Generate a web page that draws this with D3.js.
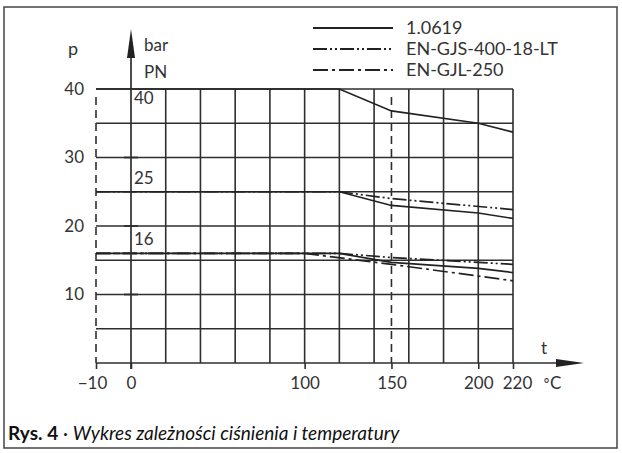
<!DOCTYPE html>
<html>
<head>
<meta charset="utf-8">
<script src="https://cdn.jsdelivr.net/npm/d3@7"></script>
<style>
  body { margin: 0; background: #fff; }
  svg { display: block; }
  text { font-family: Lato, "DejaVu Sans", sans-serif; fill: #333; }
</style>
</head>
<body>
<div id="chart"></div>
<script>
// Temperature / pressure ticks
const tempTicks = [-10, 0, 100, 150, 200, 220];
const pressureTicks = [10, 20, 30, 40];
const gridTemps = [20, 40, 60, 80, 100, 120, 140, 160, 180, 200, 220];
const gridPressures = [5, 10, 15, 20, 25, 30, 35, 40];
const pnLabels = [40, 25, 16];

// 1.0619 (solid)
const temps_1_0619 = [-10, 120, 150, 200, 220];
const pn40_1_0619 = [40, 40, 36.8, 35.0, 33.7];
const pn25_1_0619 = [25, 25, 23.0, 21.9, 21.1];
const pn16_1_0619 = [16, 16, 14.7, 13.8, 13.2];

// EN-GJS-400-18-LT (dash dot dot)
const temps_gjs = [-10, 120, 150, 220];
const pn25_gjs = [25, 25, 24.0, 22.4];
const pn16_gjs = [16, 16, 15.4, 14.4];

// EN-GJL-250 (dash dot)
const temps_gjl = [-10, 100, 150, 220];
const pn16_gjl = [16, 16, 14.4, 12.0];

const legendNames = ['1.0619', 'EN-GJS-400-18-LT', 'EN-GJL-250'];
const dashes = ['none', '14,3,2,3,2,3', '15,4,3,4'];

const W = 622, H = 453;
const ink = '#2e2e2e';

const svg = d3.select('#chart').append('svg')
  .attr('width', W)
  .attr('height', H);

// frame
svg.append('rect')
  .attr('x', 4).attr('y', 7)
  .attr('width', 613).attr('height', 441)
  .attr('fill', 'none')
  .attr('stroke', '#444')
  .attr('stroke-width', 1.5);

// scales (-10 is drawn one grid step left of 0)
const x = d3.scaleLinear().domain([-10, 0, 220]).range([96, 131, 513]);
const y = d3.scaleLinear().domain([0, 40]).range([363, 89]);

const g = svg.append('g');

// horizontal grid
g.selectAll('.hgrid')
  .data(gridPressures)
  .enter().append('line')
  .attr('x1', x(-10)).attr('x2', x(220))
  .attr('y1', d => y(d)).attr('y2', d => y(d))
  .attr('stroke', ink).attr('stroke-width', 1.6);

// vertical grid
g.selectAll('.vgrid')
  .data(gridTemps)
  .enter().append('line')
  .attr('x1', d => x(d)).attr('x2', d => x(d))
  .attr('y1', y(0)).attr('y2', y(40))
  .attr('stroke', ink).attr('stroke-width', 1.6);

// dashed verticals at -10 and 150
g.selectAll('.dgrid')
  .data([-10, 150])
  .enter().append('line')
  .attr('x1', d => x(d)).attr('x2', d => x(d))
  .attr('y1', y(40) + 8).attr('y2', y(0))
  .attr('stroke', ink).attr('stroke-width', 1.6)
  .attr('stroke-dasharray', '8,5');

// small ticks on the p axis
g.selectAll('.ptick')
  .data(pressureTicks.slice(0, 3))
  .enter().append('line')
  .attr('x1', x(0) - 7).attr('x2', x(0) + 7)
  .attr('y1', d => y(d)).attr('y2', d => y(d))
  .attr('stroke', ink).attr('stroke-width', 1.8);

// axes
const xAxis = d3.axisBottom(x)
  .tickValues(tempTicks)
  .tickSize(6)
  .tickPadding(8)
  .tickFormat(d => d < 0 ? '\u2212' + Math.abs(d) : d);

const xg = svg.append('g')
  .attr('transform', `translate(0,${y(0)})`)
  .call(xAxis);
xg.select('.domain').remove();
xg.selectAll('line').attr('stroke', ink).attr('stroke-width', 1.6);
xg.selectAll('text')
  .style('font-size', '17px')
  .attr('fill', '#333')
  .attr('dx', d => d === -10 ? -4 : d === 220 ? 4 : 0);

const yAxis = d3.axisLeft(y)
  .tickValues(pressureTicks)
  .tickSize(0)
  .tickPadding(12);

const yg = svg.append('g')
  .attr('transform', `translate(${x(-10)},0)`)
  .call(yAxis);
yg.select('.domain').remove();
yg.selectAll('text')
  .style('font-size', '17px')
  .attr('fill', '#333');

// x axis line with arrow
svg.append('line')
  .attr('x1', x(-10)).attr('x2', 565)
  .attr('y1', y(0)).attr('y2', y(0))
  .attr('stroke', ink).attr('stroke-width', 1.7);
svg.append('path')
  .attr('d', `M556,${y(0) - 4}L584,${y(0)}L556,${y(0) + 4}Z`)
  .attr('fill', '#222');

// y axis line with arrow
svg.append('line')
  .attr('x1', x(0)).attr('x2', x(0))
  .attr('y1', y(0) + 6).attr('y2', 50)
  .attr('stroke', ink).attr('stroke-width', 1.7);
svg.append('path')
  .attr('d', `M${x(0) - 4},58L${x(0)},29L${x(0) + 4},58Z`)
  .attr('fill', '#222');

// curves
const line = d3.line().x(d => x(d[0])).y(d => y(d[1]));
const curves = [
  { t: temps_1_0619, p: pn40_1_0619, k: 0 },
  { t: temps_1_0619, p: pn25_1_0619, k: 0 },
  { t: temps_1_0619, p: pn16_1_0619, k: 0 },
  { t: temps_gjs, p: pn25_gjs, k: 1 },
  { t: temps_gjs, p: pn16_gjs, k: 1 },
  { t: temps_gjl, p: pn16_gjl, k: 2 }
];
g.selectAll('.curve')
  .data(curves)
  .enter().append('path')
  .attr('d', c => line(c.t.map((t, i) => [t, c.p[i]])))
  .attr('fill', 'none')
  .attr('stroke', '#222')
  .attr('stroke-width', 1.7)
  .attr('stroke-dasharray', c => dashes[c.k]);

// PN labels
svg.selectAll('.pn')
  .data(pnLabels)
  .enter().append('text')
  .attr('x', x(0) + 3)
  .attr('y', d => y(d) - (d === 40 ? -15 : 8))
  .style('font-size', '17px')
  .text(d => d);

// axis names
svg.append('text').attr('x', 68).attr('y', 55).style('font-size', '18px').text('p');
svg.append('text').attr('x', 144).attr('y', 51).style('font-size', '17px').text('bar');
svg.append('text').attr('x', 144).attr('y', 78).style('font-size', '17px').text('PN');
svg.append('text').attr('x', 541).attr('y', 354).style('font-size', '17px').text('t');
const unit = svg.append('text').attr('x', 543).attr('y', 389).style('font-size', '17px');
unit.append('tspan').style('font-family', '"DejaVu Sans"').style('font-size', '14px').text('\u00b0');
unit.append('tspan').text('C');

// legend
const legend = svg.append('g');
legendNames.forEach((name, i) => {
  const ly = 28 + i * 21;
  legend.append('line')
    .attr('x1', 313).attr('x2', 393)
    .attr('y1', ly).attr('y2', ly)
    .attr('stroke', '#222').attr('stroke-width', 1.9)
    .attr('stroke-dasharray', dashes[i]);
  legend.append('text')
    .attr('x', 406).attr('y', ly + 6)
    .style('font-size', '18px')
    .text(name);
});

// caption
const cap = svg.append('text').attr('x', 8).attr('y', 440).style('font-size', '19px');
cap.append('tspan').style('font-weight', 'bold').attr('fill', '#111').text('Rys. 4');
cap.append('tspan').attr('fill', '#111').text(' \u00b7 ');
cap.append('tspan').style('font-style', 'italic').attr('fill', '#111').text('Wykres zależności ciśnienia i temperatury');
</script>
</body>
</html>
